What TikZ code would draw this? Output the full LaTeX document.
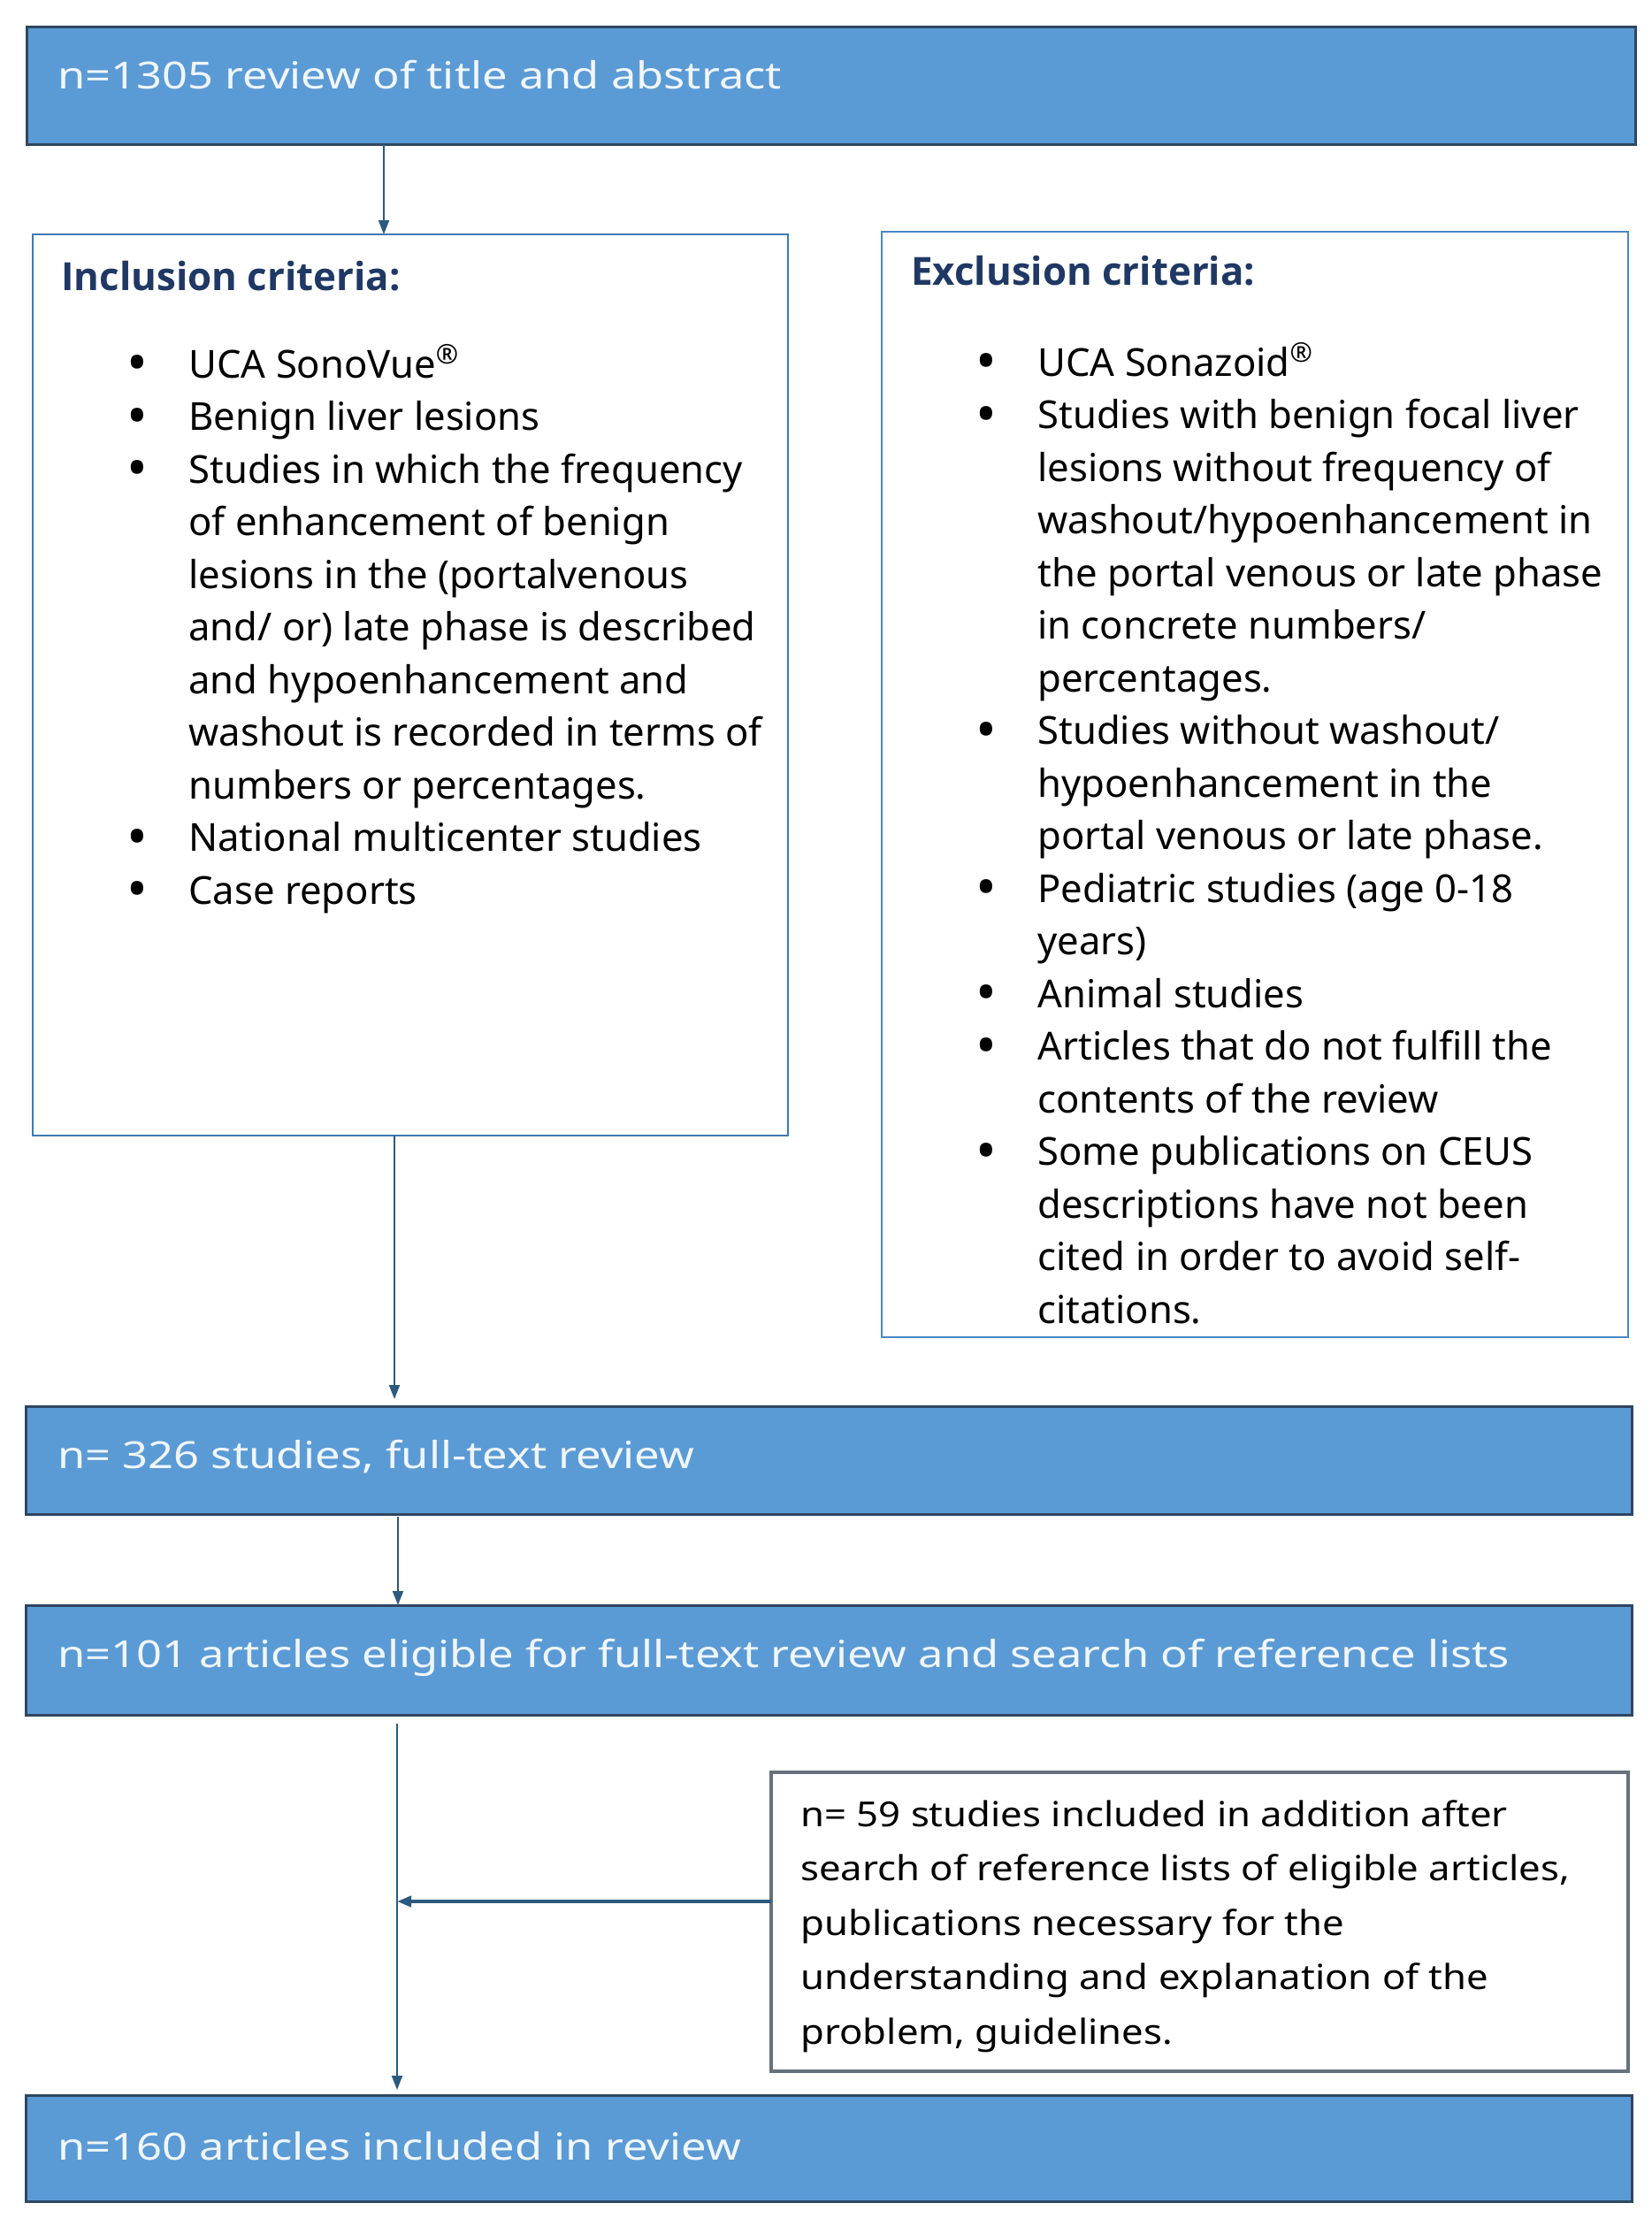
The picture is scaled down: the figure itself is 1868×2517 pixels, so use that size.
\documentclass[tikz,border=0pt]{standalone}
\usepackage{fontspec}
\usepackage{graphicx}
\setmainfont{Noto Sans}
\newfontfamily\boxfont{Noto Sans}[FakeStretch=1.2]
\newfontfamily\sidefont{Noto Sans}[FakeStretch=1.12]
\newfontfamily\headfont{Open Sans}
\newcommand\bul{\raisebox{-2.8pt}{\scalebox{1.45}{\textbullet}}}
\usetikzlibrary{arrows.meta,fit}
\definecolor{boxblue}{HTML}{5B9BD5}
\definecolor{boxedge}{HTML}{2F4660}
\definecolor{incedge}{HTML}{3D7AB3}
\definecolor{excedge}{HTML}{4A88C6}
\definecolor{sideedge}{HTML}{66717D}
\definecolor{navy}{HTML}{1F3864}
\definecolor{arrowc}{HTML}{2A5A80}
\definecolor{boxtext}{HTML}{F0F6FC}
\tikzset{
  bluebox/.style={draw=boxedge, line width=1.5pt, fill=boxblue, inner sep=0pt, outer sep=0pt},
  incbox/.style={draw=incedge, line width=1.3pt, fill=white, inner sep=0pt, outer sep=0pt},
  excbox/.style={draw=excedge, line width=1.3pt, fill=white, inner sep=0pt, outer sep=0pt},
  sidebox/.style={draw=sideedge, line width=1.8pt, fill=white, inner sep=0pt, outer sep=0pt},
  boxlabel/.style={anchor=base west, inner sep=0pt, text=boxtext, font={\boxfont\fontsize{21.1}{25}\selectfont}},
  heading/.style={anchor=base west, inner sep=0pt, text=navy, font={\headfont\fontsize{21.9}{25}\selectfont\bfseries}},
  listtext/.style={anchor=base west, inner sep=0pt, text=black, font={\fontsize{21.8}{29.75}\selectfont}},
  sidetext/.style={anchor=base west, inner sep=0pt, text=black, font={\sidefont\fontsize{19.5}{30.75}\selectfont}},
  arr/.style={draw=arrowc, line width=1pt, -{Triangle[length=8pt,width=6pt]}},
}
\begin{document}
\begin{tikzpicture}[x=0.5pt,y=-0.5pt]
\useasboundingbox (0,0) rectangle (1868,2517);
% boxes
\node[bluebox, fit={(30,30) (1849,163)}] (top) {};
\node[incbox, fit={(37,265) (891,1284)}] (inc) {};
\node[excbox, fit={(997,262) (1841,1512)}] (exc) {};
\node[bluebox, fit={(29,1590) (1845,1712)}] (b2) {};
\node[bluebox, fit={(29,1815) (1845,1939)}] (b3) {};
\node[sidebox, fit={(872,2004) (1841,2342)}] (side) {};
\node[bluebox, fit={(29,2369) (1845,2489)}] (b4) {};
% box texts
\node[boxlabel] (toptext) at (65,100) {n=1305 review of title and abstract};
\node[boxlabel] (b2text) at (65,1660) {n= 326 studies, full-text review};
\node[boxlabel] (b3text) at (65,1885) {n=101 articles eligible for full-text review and search of reference lists};
\node[boxlabel] (b4text) at (65,2442) {n=160 articles included in review};
% headings
\node[heading] (inchead) at (69,328) {Inclusion criteria:};
\node[heading] (exchead) at (1030,322) {Exclusion criteria:};
% lists
\node[listtext] (inclist) at (143,427) {\begin{tabular}[t]{@{}p{35pt}@{}l@{}}
\bul & UCA SonoVue\textsuperscript{®}\\
\bul & Benign liver lesions\\
\bul & Studies in which the frequency\\
 & of enhancement of benign\\
 & lesions in the (portalvenous\\
 & and/ or) late phase is described\\
 & and hypoenhancement and\\
 & washout is recorded in terms of\\
 & numbers or percentages.\\
\bul & National multicenter studies\\
\bul & Case reports
\end{tabular}};
\node[listtext] (exclist) at (1103,425) {\begin{tabular}[t]{@{}p{35pt}@{}l@{}}
\bul & UCA Sonazoid\textsuperscript{®}\\
\bul & Studies with benign focal liver\\
 & lesions without frequency of\\
 & washout/hypoenhancement in\\
 & the portal venous or late phase\\
 & in concrete numbers/\\
 & percentages.\\
\bul & Studies without washout/\\
 & hypoenhancement in the\\
 & portal venous or late phase.\\
\bul & Pediatric studies (age 0-18\\
 & years)\\
\bul & Animal studies\\
\bul & Articles that do not fulfill the\\
 & contents of the review\\
\bul & Some publications on CEUS\\
 & descriptions have not been\\
 & cited in order to avoid self-\\
 & citations.
\end{tabular}};
\node[sidetext] (sidelist) at (905,2065) {\begin{tabular}[t]{@{}l@{}}
n= 59 studies included in addition after\\
search of reference lists of eligible articles,\\
publications necessary for the\\
understanding and explanation of the\\
problem, guidelines.
\end{tabular}};
% connectors
\coordinate (x1) at (434,0);
\coordinate (x2) at (446,0);
\coordinate (x3) at (450,0);
\coordinate (x4) at (449,0);
\coordinate (j) at (449,2150);
\draw[arr] (top.south -| x1) -- (inc.north -| x1);
\draw[arr, shorten >=4pt] (inc.south -| x2) -- (b2.north -| x2);
\draw[arr, shorten <=1.5pt] (b2.south -| x3) -- (b3.north -| x3);
\draw[arr, shorten <=5pt, shorten >=3pt] (b3.south -| x4) -- (b4.north -| x4);
\draw[arr, line width=2pt] (side.west |- j) -- (j);
\end{tikzpicture}
\end{document}
